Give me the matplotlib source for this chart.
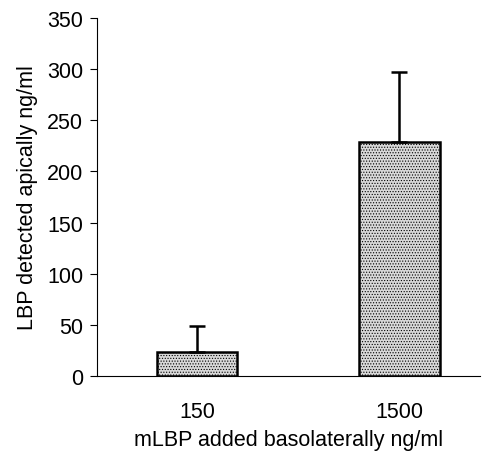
import matplotlib
matplotlib.use("Agg")
import matplotlib.pyplot as plt

categories = ["150", "1500"]
values = [24, 229]
errors = [25, 68]

plt.rcParams['font.family'] = ['Liberation Sans', 'DejaVu Sans']
plt.rcParams['hatch.color'] = '#6e6e6e'
plt.rcParams['hatch.linewidth'] = 0.5

fig = plt.figure(figsize=(4.97, 4.60), dpi=100)
ax = fig.add_axes([0.195, 0.180, 0.771, 0.779])

x = list(range(len(categories)))
ax.bar(x, values, width=0.40, color='#d8d8d8', edgecolor='black', linewidth=1.8,
       hatch='......', zorder=2)
ax.errorbar(x, values, yerr=[[0]*len(errors), errors], fmt='none', ecolor='black',
            elinewidth=1.8, capsize=6, capthick=1.8, zorder=3)

ax.set_xlim(-0.495, 1.40)
ax.set_ylim(0, 350)
ax.set_yticks(range(0, 351, 50))
ax.set_xticks(x)
ax.set_xticklabels(categories)
ax.spines['top'].set_visible(False)
ax.spines['right'].set_visible(False)
ax.spines['left'].set_linewidth(0.8)
ax.spines['bottom'].set_linewidth(0.8)
ax.tick_params(axis='y', direction='out', length=5, width=0.8, labelsize=15.5, pad=5)
ax.tick_params(axis='x', length=0, labelsize=15.5, pad=18)
ax.set_ylabel("LBP detected apically ng/ml", fontsize=15.5, labelpad=6)
ax.set_xlabel("mLBP added basolaterally ng/ml", fontsize=15.5, labelpad=5)

fig.savefig("out.png", dpi=100)
